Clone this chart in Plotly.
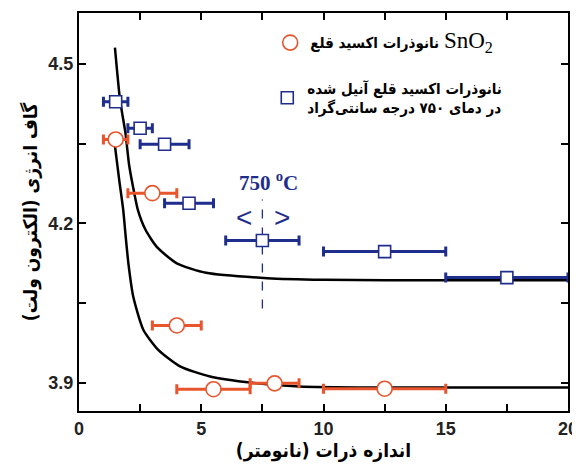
import plotly.graph_objects as go

# SnO2 nanoparticles (red circles): size, gap, size range of the bar
sno2_x = [1.5, 3.0, 4.0, 5.5, 8.0, 12.5]
sno2_y = [4.358, 4.257, 4.008, 3.888, 3.899, 3.889]
sno2_lo = [1.0, 2.0, 3.0, 4.0, 7.0, 10.0]
sno2_hi = [2.0, 4.0, 5.0, 7.0, 9.0, 15.0]

# annealed at 750 C (blue squares)
ann_x = [1.5, 2.5, 3.5, 4.5, 7.5, 12.5, 17.5]
ann_y = [4.429, 4.379, 4.349, 4.238, 4.168, 4.147, 4.098]
ann_lo = [1.0, 2.0, 2.5, 3.5, 6.0, 10.0, 15.0]
ann_hi = [2.0, 3.0, 4.5, 5.5, 9.0, 15.0, 20.0]

# fitted curves
upper_x = [1.47, 1.68, 1.9, 2.05, 2.21, 2.41, 2.72, 3.18, 4.0, 5.2, 7.7, 10, 15, 20]
upper_y = [4.531, 4.432, 4.37, 4.31, 4.269, 4.225, 4.188, 4.156, 4.125, 4.107, 4.097, 4.094, 4.093, 4.093]
lower_x = [1.47, 1.65, 1.81, 1.9, 2.02, 2.22, 2.63, 3.24, 4.13, 5.36, 7.1, 9.0, 12, 20]
lower_y = [4.346, 4.28, 4.225, 4.18, 4.125, 4.062, 4.0, 3.962, 3.931, 3.912, 3.9, 3.893, 3.891, 3.891]

# dashed marker line at 7.5 nm
mark_x = [7.5, 7.5]
mark_y = [4.04, 4.245]

x_ticks = [0, 2.5, 5, 7.5, 10, 12.5, 15, 17.5, 20]
x_text = ["0", "", "5", "", "10", "", "15", "", "20"]
y_ticks = [3.9, 4.05, 4.2, 4.35, 4.5]
y_text = ["3.9", "", "4.2", "", "4.5"]

RED = "#e8542c"
NAVY = "#1f2d8c"
FA = "DejaVu Sans Condensed, DejaVu Sans"

fig = go.Figure()

fig.add_trace(go.Scatter(x=upper_x, y=upper_y, mode="lines", showlegend=False,
                         line=dict(color="black", width=2.5, shape="spline", smoothing=0.6)))
fig.add_trace(go.Scatter(x=lower_x, y=lower_y, mode="lines", showlegend=False,
                         line=dict(color="black", width=2.5, shape="spline", smoothing=0.6)))
fig.add_trace(go.Scatter(x=mark_x, y=mark_y, mode="lines", showlegend=False,
                         line=dict(color=NAVY, width=1.3, dash="dash")))

fig.add_trace(go.Scatter(
    x=sno2_x, y=sno2_y, mode="markers", legend="legend",
    name="نانوذرات اکسید قلع <span style='font-family:Liberation Serif;font-weight:normal;font-size:23px'>SnO<sub>2</sub></span>",
    marker=dict(symbol="circle", size=15, color="white", line=dict(color=RED, width=1.6)),
    error_x=dict(type="data", symmetric=False,
                 array=[h - x for h, x in zip(sno2_hi, sno2_x)],
                 arrayminus=[x - l for x, l in zip(sno2_x, sno2_lo)],
                 color=RED, thickness=3, width=5),
))
fig.add_trace(go.Scatter(
    x=ann_x, y=ann_y, mode="markers", legend="legend2",
    name="نانوذرات اکسید قلع آنیل شده<br>در دمای ۷۵۰ درجه سانتی‌گراد",
    marker=dict(symbol="square", size=12, color="white", line=dict(color=NAVY, width=1.6)),
    error_x=dict(type="data", symmetric=False,
                 array=[h - x for h, x in zip(ann_hi, ann_x)],
                 arrayminus=[x - l for x, l in zip(ann_x, ann_lo)],
                 color=NAVY, thickness=3, width=5),
))

fig.add_annotation(x=7.75, y=4.279, text="750 <sup>o</sup>C", showarrow=False,
                   font=dict(family="Liberation Serif", size=21, color=NAVY, weight="bold"))
fig.add_annotation(x=6.75, y=4.212, text="<", showarrow=False,
                   font=dict(family="Liberation Sans", size=28, color=NAVY))
fig.add_annotation(x=8.3, y=4.212, text=">", showarrow=False,
                   font=dict(family="Liberation Sans", size=28, color=NAVY))

axis_common = dict(
    showline=True, linecolor="black", linewidth=2, mirror="ticks",
    ticks="inside", ticklen=7, tickwidth=2, tickcolor="black",
    showgrid=False, zeroline=False, automargin=False, ticklabeloverflow="allow",
    tickfont=dict(family="Liberation Sans", size=18, color="#222", weight="bold"),
)

# the page body adds an 8px offset, so the figure is 8px smaller and shifted
fig.update_layout(
    width=572, height=458,
    margin=dict(l=71, r=12, t=5, b=55),
    paper_bgcolor="white", plot_bgcolor="white",
    xaxis=dict(range=[0, 20], tickvals=x_ticks, ticktext=x_text,
               title=dict(text="اندازه ذرات (نانومتر)\u200f", standoff=6,
                          font=dict(family=FA, size=19, color="black", weight="bold")),
               **axis_common),
    yaxis=dict(range=[3.847, 4.596], tickvals=y_ticks, ticktext=y_text,
               title=dict(text="گاف انرژی (الکترون ولت)\u200f", standoff=6,
                          font=dict(family=FA, size=19, color="black", weight="bold")),
               **axis_common),
    legend=dict(x=0.391, y=0.925, xanchor="left", yanchor="middle",
                bgcolor="rgba(0,0,0,0)",
                font=dict(family=FA, size=15, color="black", weight="bold")),
    legend2=dict(x=0.385, y=0.787, xanchor="left", yanchor="middle",
                 bgcolor="rgba(0,0,0,0)",
                 font=dict(family=FA, size=15, color="black", weight="bold")),
)

fig.write_html("out.html")
